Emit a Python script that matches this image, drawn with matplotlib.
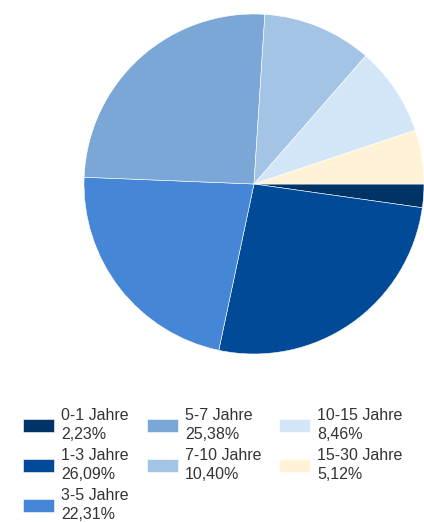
import matplotlib
matplotlib.use("Agg")
import matplotlib.pyplot as plt

categories = ["0-1 Jahre", "1-3 Jahre", "3-5 Jahre", "5-7 Jahre", "7-10 Jahre", "10-15 Jahre", "15-30 Jahre"]
values = [2.23, 26.09, 22.31, 25.38, 10.40, 8.46, 5.12]
value_labels = ["2,23%", "26,09%", "22,31%", "25,38%", "10,40%", "8,46%", "5,12%"]
colors = ["#003366", "#004a97", "#4686d6", "#7ba7d6", "#a4c4e5", "#d3e6f8", "#fff2d6"]

plt.rcParams['font.family'] = ['Arial', 'Liberation Sans', 'DejaVu Sans']

W, H = 424, 522
fig = plt.figure(figsize=(W/100, H/100), dpi=100)
cx, cy, r = 254, 184, 170
ax = fig.add_axes([(cx - r)/W, 1 - (cy + r)/H, 2*r/W, 2*r/H])
wedges, _ = ax.pie(values, colors=colors, startangle=0, counterclock=False,
                   wedgeprops=dict(edgecolor="white", linewidth=0.4))
ax.set_xlim(-1, 1)
ax.set_ylim(-1, 1)
ax.set_aspect("equal")
ax.axis("off")

labels = [f"{c}\n{v}" for c, v in zip(categories, value_labels)]
leg = fig.legend(wedges, labels, ncol=3, loc="upper left",
                 bbox_to_anchor=(23/W, 1 - 408/H), frameon=False,
                 fontsize=11.5, handlelength=1.95, handleheight=0.87,
                 handletextpad=0.45, columnspacing=1.1, labelspacing=0.4,
                 borderpad=0, borderaxespad=0)
for t in leg.get_texts():
    t.set_color("#333333")
    t.set_linespacing(1.3)

fig.savefig("out.png", dpi=100)
